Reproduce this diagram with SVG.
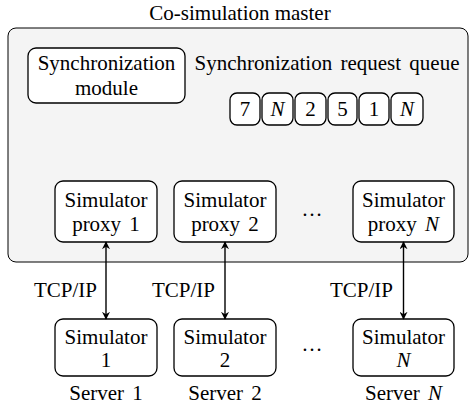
<svg xmlns="http://www.w3.org/2000/svg" width="470" height="411" viewBox="0 0 470 411">
  <style>
    text { font-size: 21px; fill: #000; text-anchor: middle; }
    .box { fill: #fff; stroke: #000; stroke-width: 1.3; }
    .master { fill: #f4f4f4; stroke: #000; stroke-width: 1; }
    .wire { stroke: #000; stroke-width: 1.4; fill: none; marker-start: url(#tip); marker-end: url(#tip); }
    .it { font-style: italic; }
    .lbl { text-anchor: end; }
  </style>
  <defs>
    <marker id="tip" viewBox="0 0 10 10" refX="9" refY="5" markerWidth="8" markerHeight="8" markerUnits="userSpaceOnUse" orient="auto-start-reverse">
      <path d="M0,0 L10,5 L0,10 L3,5 Z" fill="#000"/>
    </marker>
  </defs>

  <g font-family="'Liberation Serif', 'Times New Roman', Times, serif">
  <!-- master container -->
  <g id="master">
    <text x="240" y="20">Co-simulation master</text>
    <rect class="master" x="8" y="28" width="460" height="234" rx="8"/>
  </g>

  <g id="sync-module">
    <rect class="box" x="28" y="48" width="157" height="55" rx="8"/>
    <text x="106.5" y="70">Synchronization</text>
    <text x="106.5" y="95">module</text>
  </g>

  <g id="queue">
    <text x="327" y="70" word-spacing="3">Synchronization request queue</text>
    <rect class="box" x="230" y="93" width="30" height="32" rx="7"/>
    <text x="245" y="116">7</text>
    <rect class="box" x="262" y="93" width="31" height="32" rx="7"/>
    <text class="it" x="277.5" y="116">N</text>
    <rect class="box" x="295" y="93" width="31" height="32" rx="7"/>
    <text x="310.5" y="116">2</text>
    <rect class="box" x="328" y="93" width="29" height="32" rx="7"/>
    <text x="342.5" y="116">5</text>
    <rect class="box" x="359" y="93" width="30" height="32" rx="7"/>
    <text x="374" y="116">1</text>
    <rect class="box" x="391" y="93" width="32" height="32" rx="7"/>
    <text class="it" x="407" y="116">N</text>
  </g>

  <!-- proxies inside the master -->
  <g id="proxy-1">
    <rect class="box" x="55" y="181" width="102" height="61" rx="8"/>
    <text x="106" y="207">Simulator</text>
    <text x="106" y="231" word-spacing="3">proxy 1</text>
  </g>
  <g id="proxy-2">
    <rect class="box" x="174" y="181" width="102" height="61" rx="8"/>
    <text x="225" y="207">Simulator</text>
    <text x="225" y="231" word-spacing="3">proxy 2</text>
  </g>
  <text x="312" y="216">…</text>
  <g id="proxy-n">
    <rect class="box" x="353" y="181" width="101" height="61" rx="8"/>
    <text x="403.5" y="207">Simulator</text>
    <text x="403.5" y="231" word-spacing="3">proxy <tspan class="it">N</tspan></text>
  </g>

  <!-- remote simulators -->
  <g id="sim-1">
    <rect class="box" x="55" y="319" width="102" height="57" rx="8"/>
    <text x="106" y="344">Simulator</text>
    <text x="106" y="367">1</text>
    <text x="106" y="400" word-spacing="3">Server 1</text>
  </g>
  <g id="sim-2">
    <rect class="box" x="174" y="319" width="102" height="57" rx="8"/>
    <text x="225" y="344">Simulator</text>
    <text x="225" y="367">2</text>
    <text x="225" y="400" word-spacing="3">Server 2</text>
  </g>
  <text x="312" y="351">…</text>
  <g id="sim-n">
    <rect class="box" x="353" y="319" width="101" height="57" rx="8"/>
    <text x="403.5" y="344">Simulator</text>
    <text class="it" x="403.5" y="367">N</text>
    <text x="403.5" y="400" word-spacing="3">Server <tspan class="it">N</tspan></text>
  </g>

  <!-- TCP/IP links -->
  <g id="connectors">
    <line class="wire" x1="106" y1="242" x2="106" y2="319"/>
    <line class="wire" x1="225" y1="242" x2="225" y2="319"/>
    <line class="wire" x1="403.5" y1="242" x2="403.5" y2="319"/>
    <text class="lbl" x="97" y="297">TCP/IP</text>
    <text class="lbl" x="215" y="297">TCP/IP</text>
    <text class="lbl" x="393" y="297">TCP/IP</text>
  </g>
  </g>
</svg>
